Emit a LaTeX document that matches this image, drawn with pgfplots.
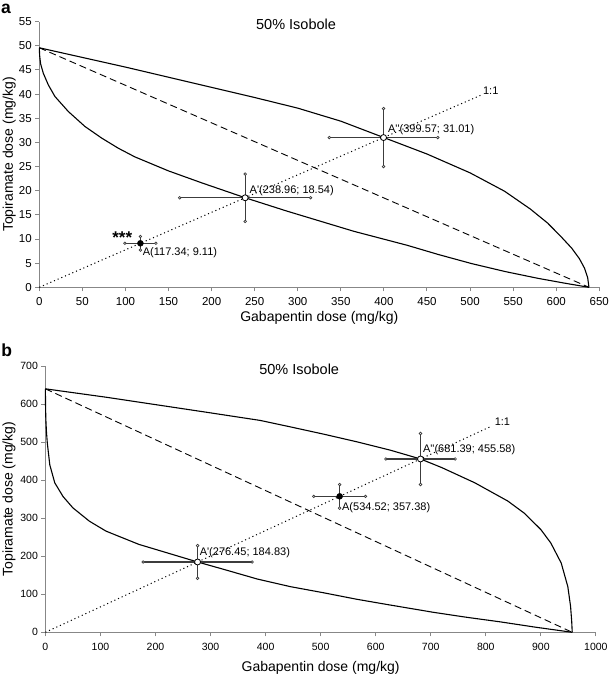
\documentclass[border=0pt]{standalone}
\usepackage{pgfplots}
\pgfplotsset{compat=1.18}
\usepackage{fontspec}
\setmainfont{Liberation Sans}
\definecolor{axgray}{RGB}{135,135,135}
\definecolor{errgray}{RGB}{60,60,60}
\pgfplotsset{
  iso/.style={
    scale only axis, axis x line=bottom, axis y line=left,
    axis line style={-, draw=axgray, line width=1.2pt},
    tick style={draw=axgray, line width=1pt}, tick align=outside, major tick length=4pt,
    /pgf/number format/assume math mode=true,
    /pgf/number format/1000 sep={},
    scaled ticks=false, clip=false,
    xlabel={Gabapentin dose (mg/kg)}, ylabel={Topiramate dose (mg/kg)},
    label style={font=\fontsize{14}{14}\selectfont},
  },
  curve/.style={black, line width=1.1pt, mark=none},
  addline/.style={black, line width=0.9pt, mark=none, dash pattern=on 7pt off 4pt},
  oneline/.style={black, line width=1pt, mark=none, dash pattern=on 1.1pt off 2.9pt},
  errp/.style={only marks, mark=*, mark size=3pt,
    error bars/.cd, x dir=both, x explicit, y dir=both, y explicit,
    error bar style={draw=errgray, line width=1.2pt},
    error mark=*, error mark options={mark size=1.3pt, draw=errgray, fill=white, line width=0.7pt},
    /pgfplots/.cd},
}
\tikzset{lab/.style={font=\fontsize{11}{11}\selectfont, anchor=west, inner sep=0pt}}
\begin{document}
\begin{tikzpicture}
\useasboundingbox (0,0) rectangle (609pt,678pt);
\node[font=\bfseries\fontsize{17.5}{17.5}\selectfont, inner sep=0pt] at (6pt,669pt) {a};
\node[font=\bfseries\fontsize{17.5}{17.5}\selectfont, inner sep=0pt] at (6.7pt,328pt) {b};
% ---------------- panel a
\begin{axis}[iso, at={(39.3pt,390.7pt)}, anchor=south west,
  width=560pt, height=265.6pt,
  xmin=0, xmax=650, ymin=0, ymax=55,
  xtick={0,50,...,650}, ytick={0,5,...,55},
  ticklabel style={font=\fontsize{11.5}{11.5}\selectfont},
  xticklabel style={yshift=-3pt},
  xlabel style={at={(rel axis cs:0.5,0)}, anchor=center, yshift=-31pt},
  ylabel style={at={(rel axis cs:0,0.5)}, anchor=center, yshift=30pt},
]
\addplot[curve] coordinates {(0,49.6) (50,47.6) (100,45.6) (150,43.5) (200,41.4) (250,39.3) (300,37.1) (350,34.4) (400,31.0) (450,27.6) (500,23.7) (540,19.9) (570,16.2) (590,13.3) (605,10.6) (618,8.1) (627,5.9) (633,3.9) (636.5,2.0) (638,0)};
\addplot[curve] coordinates {(0,49.6) (0.4,48.0) (1.5,46.3) (4.7,44.3) (10.5,41.9) (18.2,39.5) (33.7,36.4) (53,33.3) (72.4,30.9) (91.7,28.8) (111,27.0) (150,24.1) (189,21.6) (238.96,18.54) (287,15.8) (326,13.7) (365,11.6) (427,8.7) (463,6.8) (502,4.9) (541,3.25) (579,1.85) (610,0.85) (638,0)};
\addplot[addline] coordinates {(0,49.6) (638,0)};
\addplot[oneline] coordinates {(0,0) (512,39.74)};
\addplot[mark options={fill=black, draw=black}, errp] coordinates {(117.34,9.11) +- (18,1.4)};
\addplot[mark options={fill=white, draw=black, line width=0.8pt}, errp] coordinates {(238.96,18.54) +- (76,4.9)};
\addplot[mark options={fill=white, draw=black, line width=0.8pt}, errp] coordinates {(399.57,31.01) +- (63,6.0)};
\node[lab, xshift=2.3pt, yshift=-9.5pt] at (axis cs:117.34,9.11) {A(117.34; 9.11)};
\node[lab, xshift=4.3pt, yshift=6.7pt] at (axis cs:238.96,18.54) {A\textquotesingle(238.96; 18.54)};
\node[lab, xshift=4.4pt, yshift=8pt] at (axis cs:399.57,31.01) {A\textquotesingle\textquotesingle(399.57; 31.01)};
\node[font=\bfseries\fontsize{17}{17}\selectfont, anchor=base, inner sep=0pt] at (axis cs:96.3,9.1) {***};
\node[lab, xshift=2.5pt, yshift=5pt] at (axis cs:512,39.74) {1:1};
\node[font=\fontsize{14.5}{14.5}\selectfont, inner sep=0pt] at (axis cs:298,54.5) {50\% Isobole};
\end{axis}
% ---------------- panel b
\begin{axis}[iso, at={(45.4pt,45.7pt)}, anchor=south west,
  width=550.5pt, height=266.3pt,
  xmin=0, xmax=1000, ymin=0, ymax=700,
  xtick={0,100,...,1000}, ytick={0,100,...,700},
  ticklabel style={font=\fontsize{10.5}{10.5}\selectfont},
  xticklabel style={yshift=-3pt},
  xlabel style={at={(rel axis cs:0.5,0)}, anchor=center, yshift=-36pt},
  ylabel style={at={(rel axis cs:0,0.5)}, anchor=center, yshift=36.4pt},
]
\addplot[curve] coordinates {(0,640) (50,630) (110,618) (170,605) (230,592) (290,579) (340,568) (390,557) (445,540) (505,521) (565,501) (626,479) (681.39,455.58) (720,433) (780,393) (840,345) (870,313) (900,270) (918,235) (937,182) (949,120) (954,68) (956,30) (957,0)};
\addplot[curve] coordinates {(0,640) (0.2,600) (0.8,560) (2,525) (3.5,497) (8,440) (17,393) (32,357) (50,327) (80,292) (110,266) (170,231) (230,205) (276.45,184.83) (325,165) (385,140) (445,120) (505,104) (565,87) (625,72) (705,52.5) (765,39.5) (826,27.5) (890,13.5) (957,0)};
\addplot[addline] coordinates {(0,640) (957,0)};
\addplot[oneline] coordinates {(0,0) (810,541.6)};
\addplot[mark options={fill=black, draw=black}, errp] coordinates {(534.52,357.38) +- (47,31)};
\addplot[mark options={fill=white, draw=black, line width=0.8pt}, errp] coordinates {(276.45,184.83) +- (99,43)};
\addplot[mark options={fill=white, draw=black, line width=0.8pt}, errp] coordinates {(681.39,455.58) +- (63,67)};
\node[lab, xshift=2.3pt, yshift=-11pt] at (axis cs:534.52,357.38) {A(534.52; 357.38)};
\node[lab, xshift=2pt, yshift=9pt] at (axis cs:276.45,184.83) {A\textquotesingle(276.45; 184.83)};
\node[lab, xshift=2.3pt, yshift=9pt] at (axis cs:681.39,455.58) {A\textquotesingle\textquotesingle(681.39; 455.58)};
\node[lab, xshift=3.3pt, yshift=5pt] at (axis cs:810,541.6) {1:1};
\node[font=\fontsize{14.5}{14.5}\selectfont, inner sep=0pt] at (axis cs:461,691) {50\% Isobole};
\end{axis}
\end{tikzpicture}
\end{document}
